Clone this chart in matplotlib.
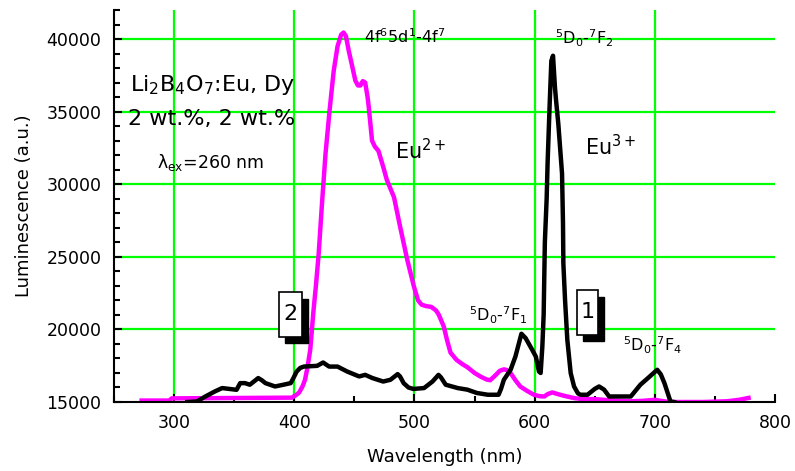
import matplotlib
matplotlib.use("Agg")
import matplotlib.pyplot as plt
from matplotlib.patches import Rectangle
from matplotlib.ticker import MultipleLocator

plt.rcParams['font.family'] = ['DejaVu Sans']
plt.rcParams['mathtext.fontset'] = 'custom'
plt.rcParams['mathtext.rm'] = 'DejaVu Sans'
plt.rcParams['mathtext.it'] = 'DejaVu Sans'
plt.rcParams['mathtext.bf'] = 'DejaVu Sans:bold'
plt.rcParams['mathtext.default'] = 'regular'

# Curve 2 (magenta, Eu2+ band)
wl2 = [273, 296, 298, 398, 401, 404, 407, 409, 411, 413.3, 416, 418, 420.3, 423, 426,
       429.4, 432.8, 436, 439, 441, 443, 445.3, 448, 450.8, 453, 455, 457, 459, 461, 462,
       464.7, 467, 470, 474, 477, 483, 488, 494, 499.4, 503, 506, 510, 514, 518, 520.3,
       524.4, 527, 530, 535, 540, 544, 550, 555, 560, 563, 567.5, 571, 574.4, 577, 580,
       584, 588, 594, 599.4, 604, 608, 611, 614.7, 619, 624.4, 632.8, 640, 650, 665, 680,
       690, 700, 705, 712, 740, 760, 770, 778]
lum2 = [15100, 15100, 15250, 15300, 15450, 15650, 16100, 16550, 17400, 18600, 21300, 23000,
        25200, 28600, 32100, 35100, 37800, 39500, 40300, 40450, 40200, 39200, 38200, 37140,
        36800, 36800, 37100, 37000, 36000, 35300, 33000, 32600, 32300, 31200, 30300, 29100,
        27100, 24800, 23000, 22000, 21700, 21600, 21550, 21300, 21000, 20200, 19300, 18400,
        17900, 17600, 17400, 17000, 16750, 16550, 16500, 16850, 17150, 17250, 17200, 16990,
        16500, 16070, 15750, 15500, 15400, 15380, 15550, 15660, 15550, 15430, 15270, 15200,
        15200, 15100, 15050, 15080, 15150, 15080, 15000, 15000, 15050, 15150, 15280]

# Curve 1 (black, Eu3+ lines)
wl1 = [311, 319, 326, 334, 340, 347, 352, 355, 359, 363, 367, 370, 373, 376, 384, 391, 397,
       399, 402, 405, 408, 419, 424, 429, 436, 444, 454, 459, 465, 474, 480, 486, 488, 491,
       495, 499, 508, 515, 520, 522, 526, 536, 544, 552, 561, 570, 572, 574.4, 580, 584, 589,
       592.5, 598, 601, 603.6, 605, 606.4, 607.5, 608.5, 610, 610.8, 612.5, 613.9, 615.3,
       616.9, 617.8, 619.7, 622.8, 623.6, 623.9, 625.3, 627.2, 630, 632.8, 636, 638, 644,
       650, 653.6, 657.8, 662, 680, 688, 695, 702, 705, 708, 713, 716]
lum1 = [15000, 15040, 15380, 15730, 15960, 15890, 15840, 16300, 16300, 16190, 16450, 16650,
        16500, 16300, 16070, 16190, 16300, 16600, 17100, 17350, 17440, 17490, 17720, 17440,
        17440, 17100, 16760, 16870, 16650, 16410, 16530, 16920, 16760, 16300, 16000, 15900,
        15960, 16410, 16870, 16700, 16190, 15960, 15850, 15620, 15500, 15500, 15900, 16530,
        17220, 18130, 19700, 19400, 18590, 18130, 17100, 17000, 18800, 21000, 26000, 29000,
        31500, 35500, 38500, 38850, 36680, 35800, 34160, 30730, 27290, 24550, 22030, 19280,
        16990, 16070, 15600, 15500, 15500, 15900, 16070, 15850, 15380, 15380, 16190, 16700,
        17220, 16900, 16300, 15040, 15000]

x_ticks = [300, 400, 500, 600, 700, 800]
y_ticks = [15000, 20000, 25000, 30000, 35000, 40000]
x_grid = [300, 400, 500, 600, 700]
y_grid = [20000, 25000, 30000, 35000, 40000]

fig = plt.figure(figsize=(7.95, 4.71), dpi=100)
ax = fig.add_axes([114/795, 1 - 402/471, (775-114)/795, (402-10)/471])
ax.set_xlim(250, 800)
ax.set_ylim(15000, 42000)

green = '#00ff00'
for gx in x_grid:
    ax.axvline(gx, color=green, lw=1.6, zorder=1)
for gy in y_grid:
    ax.axhline(gy, color=green, lw=1.6, zorder=1)

ax.plot(wl2, lum2, color='#ff00ff', lw=3.2, zorder=3, solid_joinstyle='round')
ax.plot(wl1, lum1, color='black', lw=3.2, zorder=4, solid_joinstyle='round')

for s in ['top', 'right']:
    ax.spines[s].set_visible(False)
for s in ['left', 'bottom']:
    ax.spines[s].set_linewidth(1.5)
    ax.spines[s].set_zorder(5)

ax.set_xticks(x_ticks)
ax.set_yticks(y_ticks)
ax.xaxis.set_minor_locator(MultipleLocator(50))
ax.yaxis.set_minor_locator(MultipleLocator(1000))
ax.tick_params(which='major', direction='in', length=6, width=1.5, labelsize=12.5, pad=9)
ax.tick_params(which='minor', direction='in', length=4, width=1.5)
ax.tick_params(axis='x', pad=9)

ax.set_xlabel('Wavelength (nm)', fontsize=13, labelpad=11)
ax.set_ylabel('Luminescence (a.u.)', fontsize=13, labelpad=10)

# annotations
ax.text(263.3, 36450, r'Li$_2$B$_4$O$_7$:Eu, Dy', fontsize=16, va='baseline', zorder=6)
ax.text(261.7, 34045, '2 wt.%, 2 wt.%', fontsize=16, va='baseline', zorder=6)
ax.text(285.8, 31090, r'λ$_{ex}$=260 nm', fontsize=12.5, va='baseline', zorder=6)
ax.text(458, 39700, r'4f$^6$5d$^1$-4f$^7$', fontsize=11.5, va='baseline', zorder=6)
ax.text(484, 31690, r'Eu$^{2+}$', fontsize=15, va='baseline', zorder=6)
ax.text(642, 31985, r'Eu$^{3+}$', fontsize=15, va='baseline', zorder=6)
ax.text(616.7, 39660, r'$^5$D$_0$-$^7$F$_2$', fontsize=11.5, va='baseline', zorder=6)
ax.text(545, 20535, r'$^5$D$_0$-$^7$F$_1$', fontsize=11.5, va='baseline', zorder=6)
ax.text(673.3, 18475, r'$^5$D$_0$-$^7$F$_4$', fontsize=11.5, va='baseline', zorder=6)

# curve label boxes with shadow
def label_box(x0, x1, y0, y1, txt):
    dx, dy = 5.0, -450
    ax.add_patch(Rectangle((x0 + dx, y0 + dy), x1 - x0, y1 - y0, fc='black', ec='black',
                           lw=1, zorder=6))
    ax.add_patch(Rectangle((x0, y0), x1 - x0, y1 - y0, fc='white', ec='black',
                           lw=1.2, zorder=7))
    ax.text((x0 + x1) / 2, (y0 + y1) / 2, txt, fontsize=16, ha='center', va='center',
            zorder=8)

label_box(387.3, 406.5, 19485, 22575, '2')
label_box(635.0, 652.5, 19620, 22713, '1')

fig.savefig('out.png', dpi=100)
